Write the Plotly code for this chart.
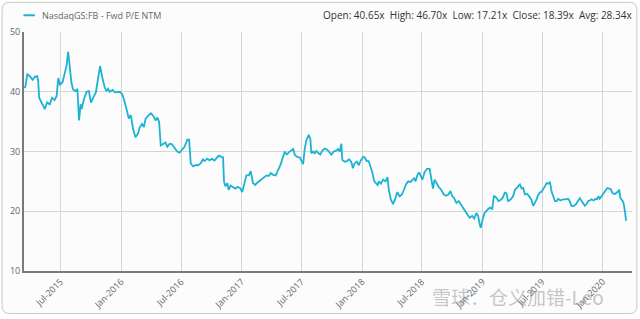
import plotly.graph_objects as go

series_name = "NasdaqGS:FB - Fwd P/E NTM"
stats_text = "Open: 40.65x\u00a0\u00a0High: 46.70x\u00a0\u00a0Low: 17.21x\u00a0\u00a0Close: 18.39x\u00a0\u00a0Avg: 28.34x"
watermark = "雪球：仓义加错-Leo"

dates = [
    # 2015
    "2015-03-12", "2015-03-16", "2015-03-22", "2015-03-30", "2015-04-07", "2015-04-14", "2015-04-21",
    "2015-04-24", "2015-04-27", "2015-05-04", "2015-05-14", "2015-05-21", "2015-05-29", "2015-06-05",
    "2015-06-13", "2015-06-19", "2015-06-24", "2015-06-29", "2015-07-07", "2015-07-14", "2015-07-19",
    "2015-07-24", "2015-07-29", "2015-08-03", "2015-08-08", "2015-08-16", "2015-08-21", "2015-08-24",
    "2015-08-26", "2015-08-31", "2015-09-03", "2015-09-10", "2015-09-18", "2015-09-25", "2015-10-01",
    "2015-10-08", "2015-10-16", "2015-10-23", "2015-10-29", "2015-11-05", "2015-11-12", "2015-11-17",
    "2015-11-22", "2015-11-27", "2015-12-06", "2015-12-13", "2015-12-20", "2015-12-28",
    # 2016
    "2016-01-04", "2016-01-09", "2016-01-17", "2016-01-24", "2016-01-30", "2016-02-03", "2016-02-06",
    "2016-02-13", "2016-02-21", "2016-02-26", "2016-03-04", "2016-03-10", "2016-03-15", "2016-03-23",
    "2016-03-31", "2016-04-07", "2016-04-14", "2016-04-20", "2016-04-25", "2016-04-30", "2016-05-07",
    "2016-05-14", "2016-05-20", "2016-05-27", "2016-06-03", "2016-06-11", "2016-06-19", "2016-06-26",
    "2016-07-03", "2016-07-11", "2016-07-20", "2016-07-25", "2016-07-30", "2016-08-06", "2016-08-13",
    "2016-08-21", "2016-08-29", "2016-09-05", "2016-09-10", "2016-09-18", "2016-09-25", "2016-10-02",
    "2016-10-10", "2016-10-17", "2016-10-23", "2016-10-31", "2016-11-05", "2016-11-08", "2016-11-12",
    "2016-11-18", "2016-11-22", "2016-11-28", "2016-12-05", "2016-12-12", "2016-12-20", "2016-12-28",
    # 2017
    "2017-01-02", "2017-01-08", "2017-01-15", "2017-01-22", "2017-01-28", "2017-02-04", "2017-02-11",
    "2017-02-15", "2017-02-22", "2017-03-02", "2017-03-09", "2017-03-17", "2017-03-24", "2017-03-30",
    "2017-04-06", "2017-04-14", "2017-04-21", "2017-04-28", "2017-05-06", "2017-05-11", "2017-05-18",
    "2017-05-24", "2017-06-01", "2017-06-06", "2017-06-11", "2017-06-18", "2017-06-26", "2017-07-01",
    "2017-07-06", "2017-07-11", "2017-07-16", "2017-07-23", "2017-07-28", "2017-07-31", "2017-08-05",
    "2017-08-10", "2017-08-15", "2017-08-22", "2017-08-27", "2017-09-03", "2017-09-10", "2017-09-17",
    "2017-09-23", "2017-09-30", "2017-10-07", "2017-10-13", "2017-10-20", "2017-10-25", "2017-10-30",
    "2017-11-02", "2017-11-09", "2017-11-16", "2017-11-22", "2017-11-29", "2017-12-04", "2017-12-09",
    "2017-12-16", "2017-12-22", "2017-12-27",
    # 2018
    "2018-01-04", "2018-01-09", "2018-01-15", "2018-01-21", "2018-01-27", "2018-02-01", "2018-02-07",
    "2018-02-17", "2018-02-21", "2018-02-27", "2018-03-06", "2018-03-13", "2018-03-19", "2018-03-23",
    "2018-03-29", "2018-04-05", "2018-04-12", "2018-04-18", "2018-04-25", "2018-05-02", "2018-05-08",
    "2018-05-14", "2018-05-21", "2018-05-28", "2018-06-03", "2018-06-08", "2018-06-12", "2018-06-18",
    "2018-06-23", "2018-06-28", "2018-07-03", "2018-07-10", "2018-07-17", "2018-07-25", "2018-07-30",
    "2018-08-04", "2018-08-09", "2018-08-14", "2018-08-21", "2018-08-29", "2018-09-06", "2018-09-13",
    "2018-09-20", "2018-09-26", "2018-10-01", "2018-10-07", "2018-10-14", "2018-10-21", "2018-10-27",
    "2018-11-03", "2018-11-08", "2018-11-16", "2018-11-23", "2018-12-01", "2018-12-07", "2018-12-14",
    "2018-12-19", "2018-12-24", "2018-12-27",
    # 2019
    "2019-01-02", "2019-01-08", "2019-01-17", "2019-01-24", "2019-01-31", "2019-02-05", "2019-02-12",
    "2019-02-19", "2019-02-25", "2019-03-03", "2019-03-10", "2019-03-15", "2019-03-20", "2019-03-27",
    "2019-04-04", "2019-04-10", "2019-04-17", "2019-04-25", "2019-04-30", "2019-05-05", "2019-05-10",
    "2019-05-17", "2019-05-23", "2019-05-30", "2019-06-04", "2019-06-09", "2019-06-14", "2019-06-19",
    "2019-06-24", "2019-06-30", "2019-07-04", "2019-07-10", "2019-07-15", "2019-07-20", "2019-07-25",
    "2019-07-30", "2019-08-04", "2019-08-09", "2019-08-14", "2019-08-19", "2019-08-26", "2019-09-03",
    "2019-09-11", "2019-09-18", "2019-09-23", "2019-09-28", "2019-10-06", "2019-10-12", "2019-10-19",
    "2019-10-24", "2019-10-29", "2019-11-03", "2019-11-08", "2019-11-13", "2019-11-18", "2019-11-23",
    "2019-11-28", "2019-12-05", "2019-12-11", "2019-12-15", "2019-12-19", "2019-12-23", "2019-12-28",
    # 2020
    "2020-01-03", "2020-01-08", "2020-01-15", "2020-01-21", "2020-01-26", "2020-01-31", "2020-02-07",
    "2020-02-12", "2020-02-17", "2020-02-20", "2020-02-24", "2020-03-02", "2020-03-05", "2020-03-09",
    "2020-03-12",
]

pe = [
    # 2015
    40.65, 40.8, 42.9, 42.6, 42.0, 42.5, 42.6,
    41.8, 39.0, 38.2, 37.1, 38.2, 37.9, 39.0,
    38.6, 39.3, 42.3, 41.2, 41.6, 43.2, 44.3,
    46.70, 44.5, 41.5, 40.4, 40.1, 40.5, 37.9,
    35.2, 37.9, 37.1, 38.8, 40.0, 40.1, 38.2,
    39.0, 39.9, 42.3, 44.3, 42.3, 40.7, 40.1,
    40.5, 40.0, 40.3, 39.9, 40.0, 40.0,
    # 2016
    39.6, 38.8, 37.1, 35.5, 36.1, 34.6, 33.8,
    32.4, 33.0, 34.0, 34.6, 34.1, 35.5, 36.0,
    36.4, 36.0, 35.2, 35.7, 34.9, 31.0, 31.3,
    31.5, 30.8, 31.3, 31.2, 30.5, 30.0, 29.8,
    30.2, 30.8, 32.0, 32.0, 28.0, 27.5, 27.7,
    27.7, 28.0, 28.7, 28.4, 28.8, 28.5, 28.8,
    28.5, 29.0, 29.3, 29.1, 29.0, 25.0, 24.2,
    24.7, 23.6, 24.3, 24.1, 23.8, 24.1, 23.8,
    # 2017
    23.2, 24.4, 26.0, 26.0, 26.7, 24.7, 24.4,
    24.7, 25.0, 25.3, 25.7, 26.0, 25.9, 26.4,
    26.1, 26.0, 26.9, 27.7, 29.1, 29.9, 29.5,
    29.9, 30.2, 30.4, 29.4, 29.1, 29.0, 28.3,
    27.9, 30.5, 31.9, 32.8, 32.1, 29.7, 30.0,
    29.7, 30.1, 29.7, 29.5, 30.2, 30.5, 30.3,
    30.0, 29.5, 30.0, 30.1, 30.4, 30.0, 31.3,
    28.6, 28.3, 28.4, 28.7, 28.3, 27.2, 28.0,
    28.3, 27.7, 28.4,
    # 2018
    29.1, 29.0, 28.4, 28.4, 27.5, 26.5, 25.0,
    24.4, 25.0, 24.6, 25.3, 25.0, 25.7, 23.6,
    22.0, 21.2, 22.2, 23.2, 22.5, 22.8, 23.6,
    24.5, 25.0, 24.9, 25.3, 25.5, 25.0, 26.1,
    26.5, 25.8, 25.3, 26.6, 27.1, 27.1, 25.3,
    23.8, 25.3, 24.7, 24.1, 23.6, 22.8, 22.6,
    22.8, 23.4, 22.6, 22.2, 21.4, 21.7, 21.2,
    20.6, 20.3, 19.7, 18.9, 19.2, 18.8, 19.7,
    19.2, 17.8, 17.21,
    # 2019
    18.7, 19.7, 20.3, 20.6, 20.4, 22.6, 22.3,
    21.7, 21.9, 22.2, 23.1, 23.0, 21.7, 21.9,
    22.5, 23.6, 24.0, 24.5, 23.8, 23.9, 22.8,
    22.9, 22.5, 21.9, 20.9, 21.4, 21.9, 22.7,
    23.1, 23.3, 23.6, 24.2, 24.7, 24.6, 24.9,
    23.3, 22.5, 21.7, 21.7, 22.1, 21.8, 22.0,
    22.0, 22.1, 21.7, 20.9, 20.9, 21.2, 21.8,
    22.2, 21.7, 21.3, 20.9, 21.2, 21.7, 21.8,
    22.0, 21.8, 22.1, 22.0, 22.5, 22.1, 22.5,
    # 2020
    22.8, 23.4, 23.9, 23.8, 23.7, 23.0, 22.9,
    23.1, 23.3, 23.6, 22.2, 21.7, 21.2, 19.8,
    18.39,
]

y_ticks = [10, 20, 30, 40, 50]
x_range = ["2015-03-12", "2020-03-30"]

LINE = "#1cb3d3"
GRID = "#d6d6d6"
AXIS = "#7a7a7a"
TXT = "#666666"

fig = go.Figure()
fig.add_trace(go.Scatter(
    x=dates, y=pe, mode="lines", name=series_name,
    line=dict(color=LINE, width=1.8), showlegend=False,
))

# outer rounded frame (paper coordinates relative to plot area)
x0, x1, y0, y1, r = -0.036, 1.008, -0.178, 1.124, 0.012
ry = 0.03
path = (f"M {x0+r},{y0} L {x1-r},{y0} Q {x1},{y0} {x1},{y0+ry} "
        f"L {x1},{y1-ry} Q {x1},{y1} {x1-r},{y1} L {x0+r},{y1} "
        f"Q {x0},{y1} {x0},{y1-ry} L {x0},{y0+ry} Q {x0},{y0} {x0+r},{y0} Z")
fig.add_shape(type="path", path=path, xref="paper", yref="paper",
              line=dict(color="#c8c8c8", width=1), fillcolor="#fcfcfd", layer="below")

# legend sample line
fig.add_shape(type="line", xref="paper", yref="paper", x0=-0.001, x1=0.018, y0=1.07, y1=1.07,
              line=dict(color=LINE, width=2))

fig.add_annotation(text=series_name, xref="paper", yref="paper", x=0.026, y=1.07,
                   xanchor="left", yanchor="middle", showarrow=False,
                   font=dict(family="Open Sans", size=9, color=TXT))
fig.add_annotation(text=stats_text, xref="paper", yref="paper", x=1.004, y=1.07,
                   xanchor="right", yanchor="middle", showarrow=False,
                   font=dict(family="Open Sans", size=10, color="#333333"))
# watermark
fig.add_annotation(text=watermark, xref="paper", yref="paper", x=0.957, y=-0.105,
                   xanchor="right", yanchor="middle", showarrow=False,
                   font=dict(family="Noto Sans CJK SC", size=19, color="rgba(150,150,150,0.55)"))

fig.update_layout(
    width=640, height=319,
    margin=dict(l=24, r=8, t=32, b=46),
    paper_bgcolor="white",
    plot_bgcolor="#fcfcfd",
    font=dict(family="Open Sans", size=9, color=TXT),
    xaxis=dict(
        type="date", range=x_range,
        tick0="2015-07-01", dtick="M6", tickformat="%b-%Y", tickangle=-45,
        showgrid=True, gridcolor=GRID, gridwidth=1,
        showline=True, linecolor=AXIS, linewidth=2,
        ticks="", zeroline=False,
        tickfont=dict(size=9, color=TXT),
    ),
    yaxis=dict(
        range=[10, 50], tickvals=y_ticks,
        showgrid=True, gridcolor=GRID, gridwidth=1,
        showline=True, linecolor=AXIS, linewidth=2,
        ticks="", zeroline=False,
        tickfont=dict(size=9, color=TXT),
    ),
)

fig.write_html("out.html")
